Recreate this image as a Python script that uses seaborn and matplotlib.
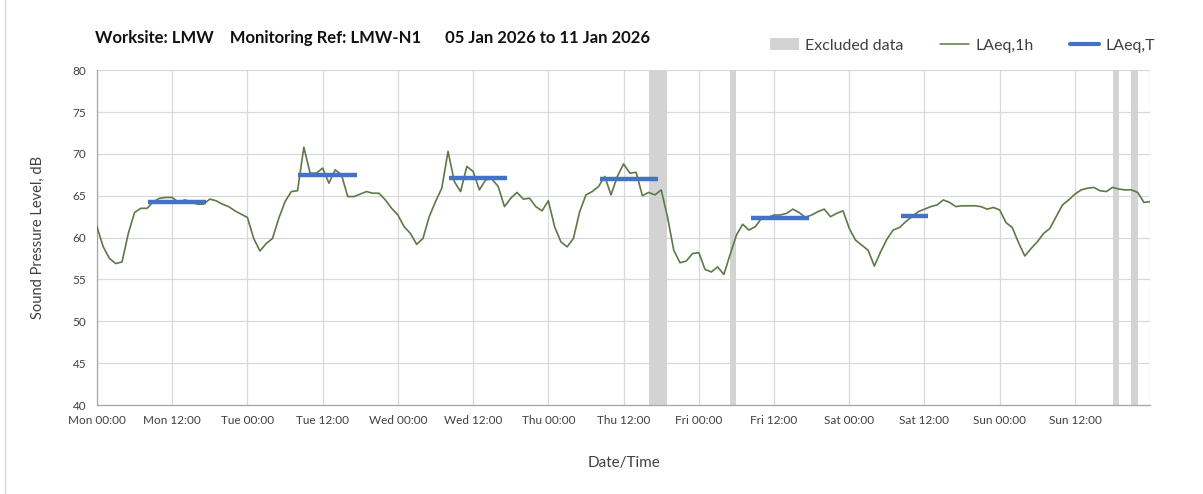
import numpy as np
import pandas as pd
import matplotlib
matplotlib.use("Agg")
import matplotlib.pyplot as plt
from matplotlib.lines import Line2D
from matplotlib.patches import Patch
import seaborn as sns

# Hourly LAeq,1h values, Mon 00:00 .. next Mon 00:00 (hours 0..168)
laeq_1h = [
    61.3, 58.9, 57.5, 56.9, 57.1, 60.5, 63.0, 63.5, 63.5, 64.3, 64.7, 64.8,
    64.8, 64.2, 64.5, 64.3, 64.0, 64.0, 64.6, 64.4, 64.0, 63.7, 63.2, 62.8,
    62.4, 59.9, 58.4, 59.3, 59.9, 62.3, 64.3, 65.5, 65.6, 70.8, 67.7, 67.7,
    68.3, 66.5, 68.1, 67.5, 64.9, 64.9, 65.2, 65.5, 65.3, 65.3, 64.5, 63.5,
    62.7, 61.3, 60.5, 59.2, 59.9, 62.5, 64.3, 65.9, 70.3, 66.7, 65.5, 68.5,
    67.9, 65.7, 66.9, 67.0, 66.1, 63.7, 64.7, 65.4, 64.6, 64.7, 63.7, 63.2,
    64.4, 61.3, 59.5, 58.9, 59.9, 63.1, 65.1, 65.5, 66.1, 67.3, 65.1, 67.3,
    68.8, 67.7, 67.8, 65.0, 65.4, 65.1, 65.7, 62.5, 58.5, 57.0, 57.2, 58.1,
    58.2, 56.2, 55.9, 56.5, 55.6, 58.0, 60.3, 61.6, 60.9, 61.3, 62.3, 62.4,
    62.7, 62.7, 62.9, 63.4, 63.0, 62.4, 62.7, 63.1, 63.4, 62.5, 62.9, 63.2,
    61.1, 59.7, 59.1, 58.5, 56.6, 58.3, 59.8, 60.9, 61.2, 61.9, 62.5, 63.1,
    63.4, 63.7, 63.9, 64.5, 64.2, 63.7, 63.8, 63.8, 63.8, 63.7, 63.4, 63.6,
    63.3, 61.8, 61.2, 59.4, 57.8, 58.7, 59.5, 60.5, 61.1, 62.5, 63.9, 64.5,
    65.2, 65.7, 65.9, 66.0, 65.6, 65.5, 66.0, 65.8, 65.7, 65.7, 65.4, 64.2,
    64.3,
]
hours = list(range(len(laeq_1h)))

# LAeq,T daytime periods (hours from Mon 00:00)
period_start = [8.2, 32.1, 56.2, 80.2, 104.3, 128.3]
period_end = [17.4, 41.4, 65.4, 89.5, 113.6, 132.6]
period_value = [64.3, 67.5, 67.1, 67.0, 62.4, 62.6]

# Excluded data windows
excl_start = [88, 101, 162, 165]
excl_end = [91, 102, 163, 166]

tick_hours = list(range(0, 169, 12))
tick_labels = ["Mon 00:00", "Mon 12:00", "Tue 00:00", "Tue 12:00", "Wed 00:00",
               "Wed 12:00", "Thu 00:00", "Thu 12:00", "Fri 00:00", "Fri 12:00",
               "Sat 00:00", "Sat 12:00", "Sun 00:00", "Sun 12:00", ""]

sns.set_style("white")
plt.rcParams["font.family"] = ["Lato", "DejaVu Sans"]

green = "#5b7a47"
blue = "#4472c4"
grey = "#d3d3d3"
text_col = "#404040"

fig = plt.figure(figsize=(12.03, 4.94), dpi=100)
ax = fig.add_axes([0.0806, 0.180, 0.8755, 0.678])

for s, e in zip(excl_start, excl_end):
    ax.axvspan(s, e, color=grey, lw=0, zorder=1)

df = pd.DataFrame({"hour": hours, "level": laeq_1h})
sns.lineplot(data=df, x="hour", y="level", color=green, lw=1.2, ax=ax, zorder=3)

ax.hlines(period_value, period_start, period_end, color=blue, lw=3.2, zorder=4)

ax.set_xlim(0, 168)
ax.set_ylim(40, 80)
ax.set_xticks(tick_hours)
ax.set_xticklabels(tick_labels)
ax.set_yticks(range(40, 81, 5))
ax.tick_params(axis="both", labelsize=8.5, colors="#808080", labelcolor=text_col,
               direction="out", length=4, width=0.8)
ax.grid(True, color="#d9d9d9", lw=0.9)
ax.set_axisbelow(True)
for side in ["top", "right"]:
    ax.spines[side].set_visible(False)
for side in ["left", "bottom"]:
    ax.spines[side].set_color("#a6a6a6")
    ax.spines[side].set_linewidth(0.9)

ax.set_xlabel("Date/Time", fontsize=11, color=text_col, labelpad=21)
ax.set_ylabel("Sound Pressure Level, dB", fontsize=10.5, color=text_col, labelpad=20)

fig.text(0.079, 0.912, "Worksite: LMW    Monitoring Ref: LMW-N1      05 Jan 2026 to 11 Jan 2026",
         fontsize=12, fontweight="bold", color="#111111")

handles = [Patch(facecolor=grey, edgecolor="none"),
           Line2D([], [], color=green, lw=1.1),
           Line2D([], [], color=blue, lw=3)]
fig.legend(handles, ["Excluded data", "LAeq,1h", "LAeq,T"], ncol=3, frameon=False,
           loc="center right", bbox_to_anchor=(0.972, 0.908), fontsize=11.5,
           handlelength=1.8, handletextpad=0.4, columnspacing=2.3,
           labelcolor=text_col)

fig.add_artist(Line2D([0.004, 0.004], [0, 1], transform=fig.transFigure,
                      color="#d9d9d9", lw=1))

plt.savefig("out.png", dpi=100)
